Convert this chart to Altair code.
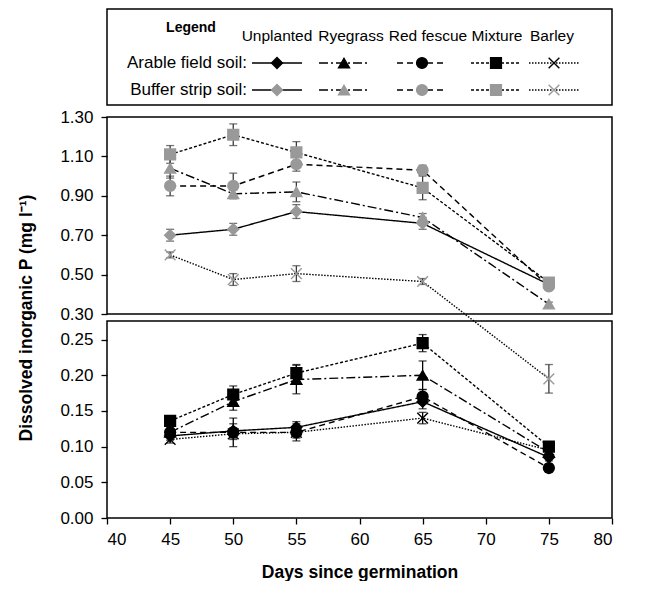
import altair as alt
import pandas as pd

# ---------------- data ----------------
days = [45, 50, 55, 65, 75]
species = ["Unplanted", "Ryegrass", "Red fescue", "Mixture", "Barley"]
soils = ["Arable field soil:", "Buffer strip soil:"]

arable_unplanted = [0.115, 0.122, 0.127, 0.163, 0.085]
arable_ryegrass = [0.120, 0.163, 0.194, 0.200, 0.092]
arable_redfescue = [0.120, 0.120, 0.120, 0.170, 0.070]
arable_mixture = [0.136, 0.173, 0.203, 0.245, 0.100]
arable_barley = [0.110, 0.118, 0.120, 0.140, 0.095]

arable_unplanted_err = [0.006, 0.010, 0.008, 0.010, 0.005]
arable_ryegrass_err = [0.006, 0.012, 0.020, 0.020, 0.006]
arable_redfescue_err = [0.006, 0.020, 0.012, 0.010, 0.006]
arable_mixture_err = [0.006, 0.012, 0.012, 0.012, 0.007]
arable_barley_err = [0.005, 0.008, 0.008, 0.008, 0.005]

buffer_unplanted = [0.70, 0.73, 0.82, 0.76, 0.45]
buffer_ryegrass = [1.04, 0.91, 0.92, 0.79, 0.35]
buffer_redfescue = [0.95, 0.95, 1.06, 1.03, 0.44]
buffer_mixture = [1.11, 1.21, 1.12, 0.94, 0.46]
buffer_barley = [0.60, 0.475, 0.505, 0.465, 0.195]

buffer_unplanted_err = [0.030, 0.030, 0.035, 0.030, 0.010]
buffer_ryegrass_err = [0.050, 0.020, 0.050, 0.020, 0.010]
buffer_redfescue_err = [0.050, 0.065, 0.035, 0.025, 0.010]
buffer_mixture_err = [0.045, 0.055, 0.055, 0.060, 0.020]
buffer_barley_err = [0.015, 0.030, 0.040, 0.015, 0.020]

y_ticks = [0.0, 0.05, 0.10, 0.15, 0.20, 0.25, 0.30, 0.50, 0.70, 0.90, 1.10, 1.30]
x_ticks = [40, 45, 50, 55, 60, 65, 70, 75, 80]

series = {
    (soils[0], "Unplanted"): (arable_unplanted, arable_unplanted_err),
    (soils[0], "Ryegrass"): (arable_ryegrass, arable_ryegrass_err),
    (soils[0], "Red fescue"): (arable_redfescue, arable_redfescue_err),
    (soils[0], "Mixture"): (arable_mixture, arable_mixture_err),
    (soils[0], "Barley"): (arable_barley, arable_barley_err),
    (soils[1], "Unplanted"): (buffer_unplanted, buffer_unplanted_err),
    (soils[1], "Ryegrass"): (buffer_ryegrass, buffer_ryegrass_err),
    (soils[1], "Red fescue"): (buffer_redfescue, buffer_redfescue_err),
    (soils[1], "Mixture"): (buffer_mixture, buffer_mixture_err),
    (soils[1], "Barley"): (buffer_barley, buffer_barley_err),
}

rows = []
for (soil, sp), (means, errs) in series.items():
    for d, m, e in zip(days, means, errs):
        rows.append(dict(soil=soil, species=sp, day=d, p=m, lo=m - e, hi=m + e))
df = pd.DataFrame(rows)

# broken-axis panels (top: 0.30-1.30, bottom: 0-0.276)
panels = pd.DataFrame({"x0": [40, 40], "x1": [80, 80],
                       "y0": [0.30, 0.0], "y1": [1.30, 0.276]})

# ---------------- styles ----------------
FONT = "Liberation Sans"
PLOT_W, PLOT_H = 505, 401
X_PATH = "M-1,-1L1,1M-1,1L1,-1"
X_TITLE = "Days since germination"
Y_TITLE = "Dissolved inorganic P (mg l\u207b\u00b9)"

xs = alt.Scale(domain=[40, 80], nice=False, zero=False)
ys = alt.Scale(domain=[0, 0.276, 0.30, 1.30], range=[PLOT_H, 204, 197, 0],
               nice=False, zero=False)
dash_scale = alt.Scale(domain=species,
                       range=[[1, 0], [9, 3, 2, 3], [6, 4], [3, 2], [1.5, 1.5]])
width_scale = alt.Scale(domain=species, range=[1.4, 1.4, 1.4, 1.4, 1.1])
shape_scale = alt.Scale(domain=species,
                        range=["diamond", "triangle-up", "circle", "square", X_PATH])
size_scale = alt.Scale(domain=species, range=[120, 115, 105, 105, 150])
fill_scale = alt.Scale(domain=soils, range=["#000000", "#999999"])
err_scale = alt.Scale(domain=soils, range=["#000000", "#3a3a3a"])

x_axis = alt.Axis(values=x_ticks, tickCount=50, format="d", title=X_TITLE,
                  domain=False, grid=False, tickSize=6, tickColor="black",
                  tickWidth=1.3, labelFontSize=17, labelColor="black",
                  labelPadding=7, titleFontSize=17.5, titleFontWeight="bold",
                  titleColor="black", titlePadding=16, labelOverlap=False)
y_axis = alt.Axis(values=y_ticks, tickCount=50, format=".2f", title=Y_TITLE,
                  domain=False, grid=False, tickSize=6, tickColor="black",
                  tickWidth=1.3, labelFontSize=17, labelColor="black",
                  labelPadding=8, titleFontSize=17.5, titleFontWeight="bold",
                  titleColor="black", titlePadding=24, labelFlush=False,
                  labelOverlap=False)

base = alt.Chart(df)

boxes = alt.Chart(panels).mark_rect(fill="transparent", stroke="black",
                                    strokeWidth=1.5).encode(
    x=alt.X("x0:Q", scale=xs, axis=x_axis, title=X_TITLE), x2="x1:Q",
    y=alt.Y("y0:Q", scale=ys, axis=y_axis, title=Y_TITLE), y2="y1:Q")

lines = base.mark_line(color="black").encode(
    x=alt.X("day:Q", scale=xs, title=X_TITLE), y=alt.Y("p:Q", scale=ys, title=Y_TITLE),
    strokeDash=alt.StrokeDash("species:N", scale=dash_scale, legend=None),
    strokeWidth=alt.StrokeWidth("species:N", scale=width_scale, legend=None),
    detail="soil:N")

errbars = base.mark_errorbar(ticks=True, size=8, thickness=1.3).encode(
    x=alt.X("day:Q", scale=xs, title=X_TITLE),
    y=alt.Y("lo:Q", scale=ys, title=Y_TITLE), y2="hi:Q",
    color=alt.Color("soil:N", scale=err_scale, legend=None))

points = base.mark_point(filled=True, strokeWidth=1.4, opacity=1).encode(
    x=alt.X("day:Q", scale=xs, title=X_TITLE), y=alt.Y("p:Q", scale=ys, title=Y_TITLE),
    shape=alt.Shape("species:N", scale=shape_scale, legend=None),
    size=alt.Size("species:N", scale=size_scale, legend=None),
    fill=alt.Fill("soil:N", scale=fill_scale, legend=None),
    stroke=alt.Stroke("soil:N", scale=fill_scale, legend=None))

main = alt.layer(boxes, lines, errbars, points).properties(width=PLOT_W, height=PLOT_H)

# ---------------- custom legend panel ----------------
LW, LH = 505, 96
head_x = [170, 244, 321, 390, 445]
sample_x = [170, 237, 315, 389, 447]
row_y = [54, 81]
HALF = 25

lx = alt.Scale(domain=[0, LW], range=[0, LW])
ly = alt.Scale(domain=[0, LH], range=[0, LH])

leg_rows = []
for soil, ry in zip(soils, row_y):
    for sp, cx in zip(species, sample_x):
        leg_rows.append(dict(soil=soil, species=sp, x=cx, xa=cx - HALF, xb=cx + HALF, y=ry))
leg_df = pd.DataFrame(leg_rows)
head_df = pd.DataFrame({"label": species, "x": head_x, "y": [27] * 5})
rowlab_df = pd.DataFrame({"label": soils, "x": [140, 140], "y": row_y})
title_df = pd.DataFrame({"label": ["Legend"], "x": [84], "y": [19]})
frame_df = pd.DataFrame({"x0": [0], "x1": [LW], "y0": [0], "y1": [LH]})

frame = alt.Chart(frame_df).mark_rect(fill="transparent", stroke="black",
                                      strokeWidth=1.5).encode(
    x=alt.X("x0:Q", scale=lx, axis=None), x2="x1:Q",
    y=alt.Y("y0:Q", scale=ly, axis=None), y2="y1:Q")
ltitle = alt.Chart(title_df).mark_text(fontSize=14, fontWeight="bold", color="black").encode(
    x=alt.X("x:Q", scale=lx, axis=None), y=alt.Y("y:Q", scale=ly, axis=None), text="label:N")
lhead = alt.Chart(head_df).mark_text(fontSize=15.5, color="black").encode(
    x=alt.X("x:Q", scale=lx, axis=None), y=alt.Y("y:Q", scale=ly, axis=None), text="label:N")
lrow = alt.Chart(rowlab_df).mark_text(fontSize=17, color="black", align="right").encode(
    x=alt.X("x:Q", scale=lx, axis=None), y=alt.Y("y:Q", scale=ly, axis=None), text="label:N")
lrules = alt.Chart(leg_df).mark_rule(color="black").encode(
    x=alt.X("xa:Q", scale=lx, axis=None), x2="xb:Q",
    y=alt.Y("y:Q", scale=ly, axis=None),
    strokeDash=alt.StrokeDash("species:N", scale=dash_scale, legend=None),
    strokeWidth=alt.StrokeWidth("species:N", scale=width_scale, legend=None))
lpts = alt.Chart(leg_df).mark_point(filled=True, strokeWidth=1.4, opacity=1).encode(
    x=alt.X("x:Q", scale=lx, axis=None), y=alt.Y("y:Q", scale=ly, axis=None),
    shape=alt.Shape("species:N", scale=shape_scale, legend=None),
    size=alt.Size("species:N", scale=size_scale, legend=None),
    fill=alt.Fill("soil:N", scale=fill_scale, legend=None),
    stroke=alt.Stroke("soil:N", scale=fill_scale, legend=None))

legend_panel = alt.layer(frame, ltitle, lhead, lrow, lrules, lpts).properties(
    width=LW, height=LH)

chart = alt.vconcat(legend_panel, main, spacing=2).properties(
    padding={"left": 9, "top": 0, "right": 5, "bottom": 0}
).configure(font=FONT).configure_view(strokeWidth=0)

chart.save("out.html", embed_options={"renderer": "svg", "actions": False})
